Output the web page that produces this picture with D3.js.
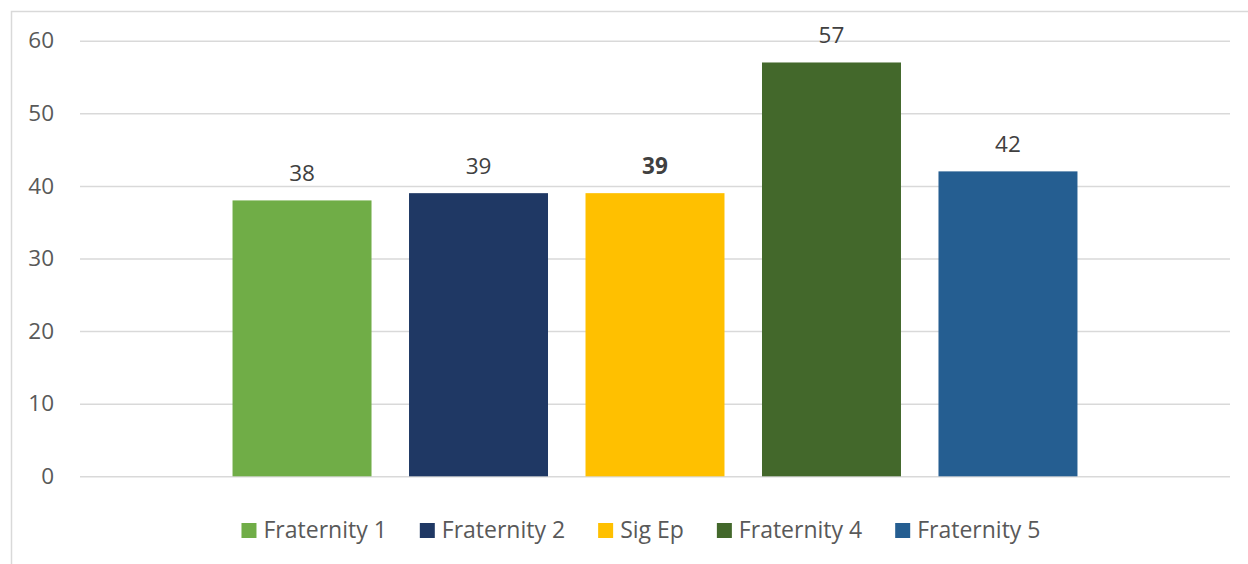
<!DOCTYPE html>
<html><head><meta charset="utf-8">
<script src="https://cdn.jsdelivr.net/npm/d3@7"></script>
<style>body{margin:0;background:#fff;}svg{display:block;}</style>
</head><body>
<script>
const categories = [""];
const seriesNames = ["Fraternity 1","Fraternity 2","Sig Ep","Fraternity 4","Fraternity 5"];
const seriesValues = [38, 39, 39, 57, 42];
const seriesColors = ["#70AD47","#1F3864","#FFC000","#43682B","#255E91"];
const boldLabels = [false, false, true, false, false];
const yTicks = [0,10,20,30,40,50,60];

(function(){
const W = 1248, H = 564;
const font = "'Open Sans', 'Liberation Sans', sans-serif";
const svg = d3.select("body").append("svg").attr("width", W).attr("height", H);

svg.append("rect").attr("x",11.5).attr("y",11.5).attr("width",W).attr("height",H)
  .attr("fill","none").attr("stroke","#d9d9d9").attr("stroke-width",1.5);

const pLeft = 80, pRight = 1230, pTop = 40.7, pBottom = 476.3;
const y = d3.scaleLinear().domain([0,60]).range([pBottom, pTop]);
const x0 = d3.scaleBand().domain(categories).range([pLeft,pRight]).paddingOuter(0.1516).paddingInner(0);
const x1 = d3.scaleBand().domain(seriesNames).range([0, x0.bandwidth()]).paddingInner(0.2125).paddingOuter(0.10625);

const yAxis = d3.axisLeft(y).tickValues(yTicks).tickSize(-(pRight-pLeft)).tickPadding(26);
const ga = svg.append("g").attr("transform",`translate(${pLeft},0)`).call(yAxis);
ga.select(".domain").remove();
ga.selectAll(".tick line").attr("stroke","#d9d9d9").attr("stroke-width",1.5);
ga.selectAll(".tick text").attr("fill","#595959").style("font-family",font).style("font-size","22.5px");

const g = svg.append("g").attr("transform",`translate(${x0("")},0)`);
const data = seriesNames.map((n,i)=>({name:n, value:seriesValues[i], color:seriesColors[i], bold:boldLabels[i]}));
g.selectAll("rect.bar").data(data).enter().append("rect")
  .attr("x", d=>x1(d.name)).attr("width", x1.bandwidth())
  .attr("y", d=>y(d.value)).attr("height", d=>y(0)-y(d.value))
  .attr("fill", d=>d.color);
g.selectAll("text.lbl").data(data).enter().append("text")
  .attr("x", d=>x1(d.name)+x1.bandwidth()/2).attr("y", d=>y(d.value)-19.5)
  .attr("text-anchor","middle").attr("fill","#404040")
  .style("font-family",font).style("font-size","22.5px")
  .style("font-weight", d=>d.bold?"bold":"normal")
  .text(d=>d.value);

const lg = svg.append("g");
let cx = 0;
data.forEach(d=>{
  const it = lg.append("g");
  it.append("rect").attr("x",0).attr("y",-15).attr("width",15).attr("height",15).attr("fill",d.color);
  const t = it.append("text").attr("x",22).attr("y",0).attr("fill","#595959")
    .style("font-family",font).style("font-size","23px").text(d.name);
  const w = 22 + t.node().getComputedTextLength();
  it.attr("transform",`translate(${cx},0)`);
  cx += w + 33;
});
const totalW = cx - 33;
lg.attr("transform",`translate(${641 - totalW/2},538)`);
})();
</script>
</body></html>
